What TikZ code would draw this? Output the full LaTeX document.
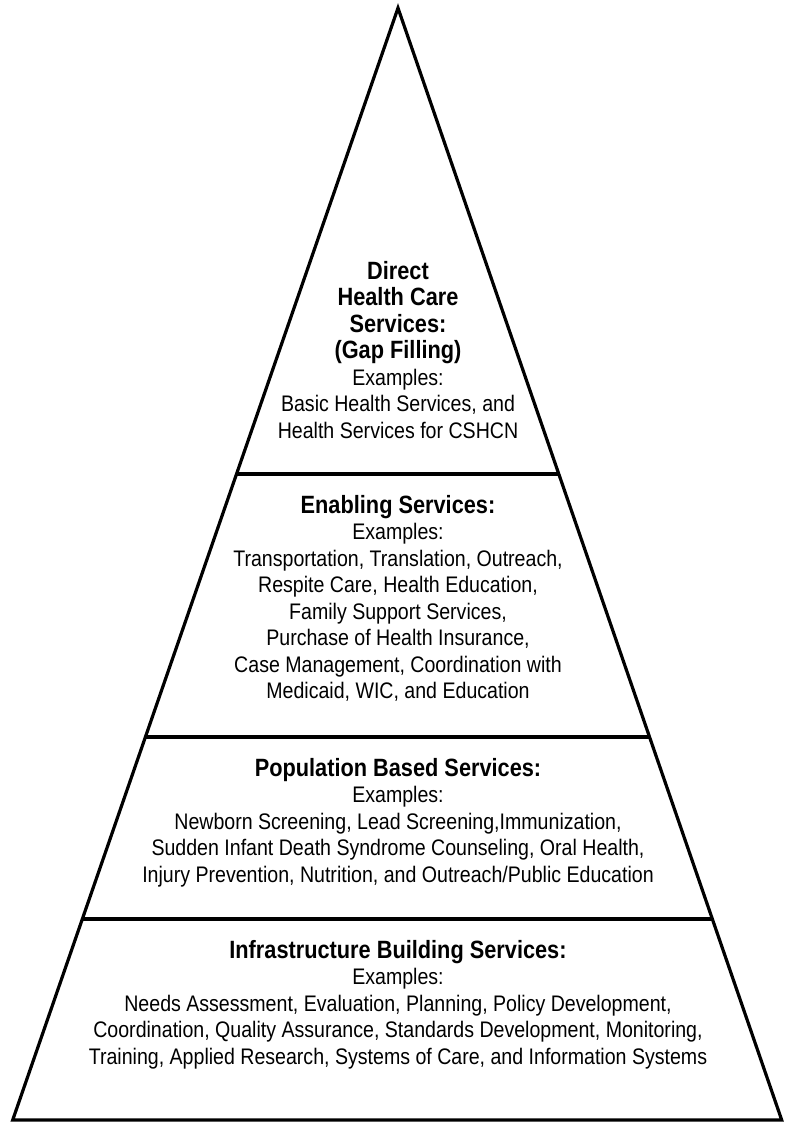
\documentclass[tikz,border=0pt]{standalone}
\usepackage{fontspec}
\setmainfont{Liberation Sans}[FakeStretch=0.87]
\usetikzlibrary{calc}
\tikzset{
  pyramid edge/.style={line width=3.2pt, line join=miter, draw=black},
  tier rule/.style={line width=3.2pt, draw=black},
  tier label/.style={align=center, inner sep=0pt, anchor=base,
    font=\fontsize{22.5}{26.5}\selectfont}
}
\newcommand{\tierhead}[1]{{\fontsize{25}{26.5}\selectfont\bfseries #1}}

\begin{document}
\begin{tikzpicture}[x=1pt, y=-1pt]
  \useasboundingbox (0,0) rectangle (786,1122);
  \coordinate (apex) at (398,8);
  \coordinate (bl) at (12.7,1120);
  \coordinate (br) at (781.7,1120);
  \draw[pyramid edge] (apex) -- (bl) -- (br) -- cycle;
  % tier boundaries
  \coordinate (l1) at ($(apex)!0.4191!(bl)$);
  \coordinate (r1) at ($(apex)!0.4191!(br)$);
  \coordinate (l2) at ($(apex)!0.6556!(bl)$);
  \coordinate (r2) at ($(apex)!0.6556!(br)$);
  \coordinate (l3) at ($(apex)!0.8192!(bl)$);
  \coordinate (r3) at ($(apex)!0.8192!(br)$);
  \draw[tier rule] (l1) -- (r1);
  \draw[tier rule] (l2) -- (r2);
  \draw[tier rule] (l3) -- (r3);
  % tier texts, placed by the baseline of their last line
  \node[tier label] (direct) at (398,438) {\tierhead{Direct}\\
    \tierhead{Health Care}\\ \tierhead{Services:}\\
    \tierhead{(Gap Filling)}\\ Examples:\\
    Basic Health Services, and\\ Health Services for CSHCN};
  \node[tier label] (enabling) at (398,698.5) {\tierhead{Enabling Services:}\\
    Examples:\\ Transportation, Translation, Outreach,\\
    Respite Care, Health Education,\\ Family Support Services,\\
    Purchase of Health Insurance,\\ Case Management, Coordination with\\
    Medicaid, WIC, and Education};
  \node[tier label] (population) at (398,882) {\tierhead{Population Based Services:}\\
    Examples:\\ Newborn Screening, Lead Screening,Immunization,\\
    Sudden Infant Death Syndrome Counseling, Oral Health,\\
    Injury Prevention, Nutrition, and Outreach/Public Education};
  \node[tier label] (infrastructure) at (398,1064) {\tierhead{Infrastructure Building Services:}\\
    Examples:\\ Needs Assessment, Evaluation, Planning, Policy Development,\\
    Coordination, Quality Assurance, Standards Development, Monitoring,\\
    Training, Applied Research, Systems of Care, and Information Systems};
\end{tikzpicture}
\end{document}
